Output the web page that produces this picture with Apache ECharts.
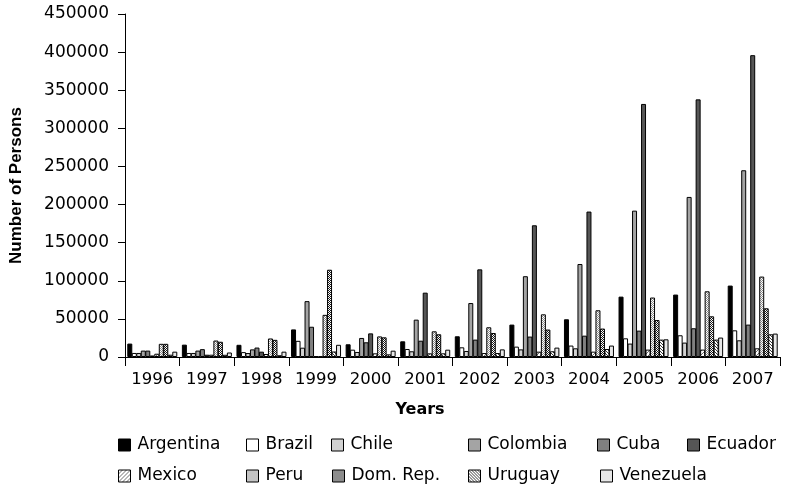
<!DOCTYPE html>
<html>
<head>
<meta charset="utf-8">
<title>Number of Persons by Year</title>
<script src="https://cdn.jsdelivr.net/npm/echarts@6/dist/echarts.min.js"></script>
<style>
  html, body { margin: 0; padding: 0; background: #fff; }
  #chart { width: 787px; height: 491px; }
</style>
</head>
<body>
<div id="chart"></div>
<script>
// Categories and series values
const years = ['1996', '1997', '1998', '1999', '2000', '2001', '2002', '2003', '2004', '2005', '2006', '2007'];
const countries = ['Argentina', 'Brazil', 'Chile', 'Colombia', 'Cuba', 'Ecuador',
                   'Mexico', 'Peru', 'Dom. Rep.', 'Uruguay', 'Venezuela'];

const argentina = [17600, 16200, 16000, 36200, 16700, 20600, 27200, 42500, 49500, 79200, 81900, 93700];
const brazil    = [5300, 5300, 6400, 21200, 9600, 10500, 12700, 13600, 15000, 24500, 28500, 35000];
const chile     = [5300, 5300, 5200, 12200, 6600, 7500, 7900, 10000, 11400, 17600, 18900, 21900];
const colombia  = [8400, 8400, 10000, 73300, 25000, 49000, 70800, 106000, 122000, 192000, 210000, 245000];
const cuba      = [8400, 10300, 12400, 39700, 19300, 21400, 22800, 26800, 28000, 34600, 37700, 42500];
const ecuador   = [2000, 3000, 7000, 1300, 31000, 84400, 115000, 172800, 190800, 332000, 338000, 396000];
const mexico    = [4300, 3000, 3900, 1000, 4800, 4800, 5200, 7000, 7000, 9700, 9700, 11400];
const peru      = [17300, 21600, 24300, 55300, 27000, 33700, 39000, 56000, 61300, 78000, 86200, 105500];
const domRep    = [17300, 20000, 22500, 114500, 25800, 29800, 31500, 36000, 37300, 48500, 53400, 63900];
const uruguay   = [3000, 2900, 2300, 7200, 3500, 4800, 5200, 7500, 10500, 22800, 22800, 29800];
const venezuela = [7000, 5900, 7000, 16000, 8300, 9600, 10000, 12300, 15000, 23200, 25500, 30700];

const seriesValues = [argentina, brazil, chile, colombia, cuba, ecuador,
                      mexico, peru, domRep, uruguay, venezuela];

// Y axis ticks
const yMin = 0, yMax = 450000, yStep = 50000;

// Small repeating tiles for the hatched fills
function tile(size, bg, fg, pixels) {
  const c = document.createElement('canvas');
  c.width = size; c.height = size;
  const ctx = c.getContext('2d');
  ctx.fillStyle = bg; ctx.fillRect(0, 0, size, size);
  ctx.fillStyle = fg;
  pixels.forEach(p => ctx.fillRect(p[0], p[1], 1, 1));
  return { image: c, repeat: 'repeat' };
}

const fills = [
  '#000000',                                                     // Argentina
  '#ffffff',                                                     // Brazil
  '#d2d2d2',                                                     // Chile
  '#a4a4a4',                                                     // Colombia
  '#808080',                                                     // Cuba
  '#565656',                                                     // Ecuador
  tile(4, '#ffffff', '#707070', [[0,3],[1,2],[2,1],[3,0]]),      // Mexico: sparse "/" hatch
  tile(2, '#ffffff', '#8a8a8a', [[0,0],[1,1]]),                  // Peru: light stipple
  tile(2, '#ffffff', '#1a1a1a', [[0,0],[1,1]]),                  // Dom. Rep.: dark checker
  tile(3, '#ffffff', '#3a3a3a', [[0,0],[1,1],[2,2]]),            // Uruguay: dense "\" hatch
  '#e8e8e8'                                                      // Venezuela
];

// Legend placement: two rows
const legendLeft = [118, 246, 331, 468, 597, 687, 118, 246, 332, 468, 600];
const legendTop  = [436, 436, 436, 436, 436, 436, 467, 467, 467, 467, 467];

const chart = echarts.init(document.getElementById('chart'), null, { renderer: 'canvas' });

const option = {
  animation: false,
  backgroundColor: '#ffffff',
  grid: { left: 124, right: 7, top: 14, bottom: 134, containLabel: false },
  xAxis: {
    type: 'category',
    data: years,
    name: 'Years',
    nameLocation: 'middle',
    nameGap: 45,
    nameTextStyle: {
      fontFamily: 'DejaVu Sans', fontWeight: 'bold', fontSize: 16, color: '#000',
      padding: [0, 65, 0, 0]
    },
    axisLine: { lineStyle: { color: '#000', width: 1 } },
    axisTick: { show: true, interval: 0, length: 9, lineStyle: { color: '#000' } },
    axisLabel: {
      interval: 0, hideOverlap: false,
      margin: 14, color: '#000', fontFamily: 'DejaVu Sans', fontSize: 16.5
    }
  },
  yAxis: {
    type: 'value',
    min: yMin, max: yMax, interval: yStep,
    name: 'Number of Persons',
    nameLocation: 'middle',
    nameRotate: 90,
    nameGap: 100,
    nameTextStyle: { fontFamily: 'Liberation Sans', fontWeight: 'bold', fontSize: 17, color: '#000' },
    axisLine: { show: true, lineStyle: { color: '#000', width: 1 } },
    axisTick: { show: true, length: 7, lineStyle: { color: '#000' } },
    splitLine: { show: false },
    axisLabel: {
      margin: 16, color: '#000', fontFamily: 'DejaVu Sans', fontSize: 17,
      formatter: v => String(v)
    }
  },
  legend: countries.map((name, i) => ({
    data: [name],
    left: legendLeft[i],
    top: legendTop[i],
    padding: 0,
    itemWidth: 12,
    itemHeight: 12,
    selectedMode: false,
    icon: 'rect',
    itemStyle: { borderColor: '#000', borderWidth: 1 },
    textStyle: {
      fontFamily: 'DejaVu Sans', fontSize: 17, color: '#000', lineHeight: 18,
      padding: [0, 0, 0, 2]
    }
  })),
  series: countries.map((name, i) => ({
    name: name,
    type: 'bar',
    data: seriesValues[i],
    barWidth: 5,
    barGap: '-10%',
    itemStyle: { color: fills[i], borderColor: '#000', borderWidth: 1 }
  }))
};

chart.setOption(option);
</script>
</body>
</html>
